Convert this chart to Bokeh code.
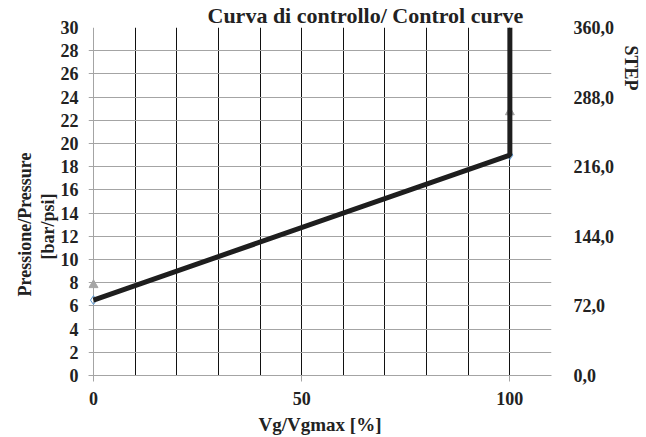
from bokeh.plotting import figure
from bokeh.models import Range1d, LinearAxis, FixedTicker, Title, Grid
from bokeh.embed import file_html
from bokeh.resources import INLINE

# data
curve_x = [0, 100, 100]
curve_y = [6.5, 19, 30]
diamond_x = [0, 100]
diamond_y = [6.5, 19]
tri_x = [0, 100]
tri_y = [7.8, 22.7]
y_ticks = list(range(0, 31, 2))
x_ticks = [0, 50, 100]
vgrid = [10, 20, 30, 40, 50, 60, 70, 80, 90, 100]
edge_grid = [0, 110]
step_ticks = [0, 72, 144, 216, 288, 360]
step_labels = ["0,0", "72,0", "144,0", "216,0", "288,0", "360,0"]

FONT = "Liberation Serif"
TXT = "#222222"
GRAY = "#a4a4a4"

p = figure(width=646, height=437, output_backend="svg", toolbar_location=None,
           x_range=Range1d(-1.2, 110), y_range=Range1d(0, 30),
           min_border_left=88, min_border_right=89, min_border_top=27, min_border_bottom=60)
p.outline_line_color = None

# title
p.title.text = "Curva di controllo/ Control curve"
p.title.align = "left"
p.title.offset = 119
p.title.standoff = 0
p.title.text_font = FONT
p.title.text_font_style = "bold"
p.title.text_font_size = "22px"
p.title.text_color = TXT

# axes
p.xaxis.ticker = FixedTicker(ticks=x_ticks)
p.yaxis.ticker = FixedTicker(ticks=y_ticks)
for ax in (p.xaxis[0], p.yaxis[0]):
    ax.axis_line_color = GRAY
    ax.major_tick_line_color = GRAY
    ax.major_tick_out = 6
    ax.major_tick_in = 0
    ax.minor_tick_line_color = None
    ax.major_label_text_font = FONT
    ax.major_label_text_font_style = "bold"
    ax.major_label_text_font_size = "18px"
    ax.major_label_text_color = TXT
    ax.axis_label_text_font = FONT
    ax.axis_label_text_font_style = "bold"
    ax.axis_label_text_color = TXT
p.xaxis.axis_label = "Vg/Vgmax [%]"
p.xaxis.axis_label_text_font_size = "19px"
p.xaxis.major_label_standoff = 10
p.xaxis.axis_label_standoff = 6
p.yaxis.axis_line_color = None
p.yaxis.major_tick_line_color = None
p.yaxis.major_tick_out = 0
p.yaxis.major_label_standoff = 10

ylab2 = Title(text="[bar/psi]", align="left", offset=116, standoff=0,
              text_font=FONT, text_font_style="bold",
              text_font_size="18px", text_color=TXT)
p.add_layout(ylab2, "left")
ylab1 = Title(text="Pressione/Pressure", align="left", offset=79, standoff=1,
              text_font=FONT, text_font_style="bold",
              text_font_size="18px", text_color=TXT)
p.add_layout(ylab1, "left")

p.extra_y_ranges = {"step": Range1d(0, 360)}
ax2 = LinearAxis(y_range_name="step", ticker=FixedTicker(ticks=step_ticks),
                 major_label_overrides={t: s for t, s in zip(step_ticks, step_labels)})
ax2.axis_line_color = None
ax2.major_tick_line_color = None
ax2.minor_tick_line_color = None
ax2.major_label_standoff = 16
ax2.major_label_text_font = FONT
ax2.major_label_text_font_style = "bold"
ax2.major_label_text_font_size = "18px"
ax2.major_label_text_color = TXT
p.add_layout(ax2, "right")

steplab = Title(text="STEP", align="left", offset=18, standoff=7,
                text_font=FONT, text_font_style="bold", text_font_size="18px",
                text_color=TXT)
p.add_layout(steplab, "right")

# grids
p.xgrid.ticker = FixedTicker(ticks=vgrid)
p.xgrid.grid_line_color = "#111111"
p.xgrid.grid_line_width = 1
p.ygrid.ticker = FixedTicker(ticks=y_ticks)
p.ygrid.grid_line_color = GRAY
p.ygrid.grid_line_width = 1
edge = Grid(dimension=0, ticker=FixedTicker(ticks=edge_grid),
            grid_line_color=GRAY, grid_line_width=1)
p.add_layout(edge)

# glyphs (markers under the curve)
p.scatter(diamond_x, diamond_y, marker="diamond", size=9, fill_color=None,
          line_color="#5b9bd5", line_width=1)
p.scatter(tri_x, tri_y, marker="triangle", size=9, fill_color="#a5a5a5",
          line_color="#a5a5a5")
p.line(curve_x, curve_y, line_color="#1e1e1e", line_width=5)

open("out.html", "w").write(file_html(p, INLINE))
